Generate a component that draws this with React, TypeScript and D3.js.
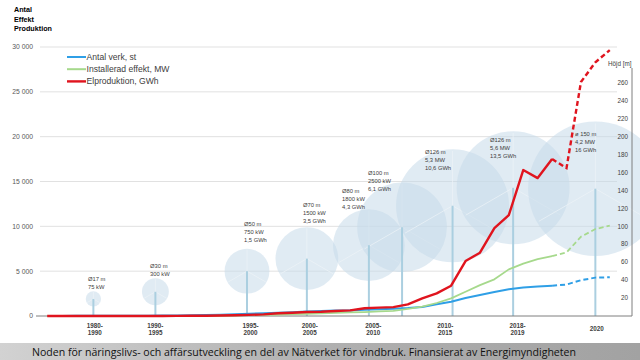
import React from "react";
import * as d3 from "d3";

const years = [1982,1983,1984,1985,1986,1987,1988,1989,1990,1991,1992,1993,1994,1995,1996,1997,1998,1999,2000,2001,2002,2003,2004,2005,2006,2007,2008,2009,2010,2011,2012,2013,2014,2015,2016,2017,2018,2019,2020,2021];
const antalVerk = [5,10,15,20,25,30,35,40,50,60,80,100,140,200,250,310,360,430,500,560,600,620,700,760,800,880,1000,1300,1590,2000,2340,2680,2980,3180,3300,3380,3510,3990,4280,4320];
const effektMW = [0,0,1,1,2,3,4,5,6,8,12,20,30,50,90,120,170,220,240,290,340,400,440,510,570,790,1040,1450,1970,2700,3450,4090,5200,5850,6350,6690,7080,8840,9700,10070];
const elGWh = [0,0,0,0,0,5,5,5,6,10,20,30,50,90,130,180,310,370,450,480,560,630,860,930,990,1300,1970,2530,3380,6130,7060,9800,11260,16280,15380,17500,16500,26090,28300,29650];
const forecastFrom = 2017;

const seriesNames = ["Antal verk, st", "Installerad effekt, MW", "Elproduktion, GWh"];
const leftTicks = [0, 5000, 10000, 15000, 20000, 25000, 30000];
const rightTicks = [20, 40, 60, 80, 100, 120, 140, 160, 180, 200, 220, 240, 260];

const catLabels = [["1980-", "1990"], ["1990-", "1995"], ["1995-", "2000"], ["2000-", "2005"], ["2005-", "2010"], ["2010-", "2015"], ["2018-", "2019"], ["2020"]];
const catPos = [1985.3, 1989.5, 1996.1, 2000.2, 2004.6, 2009.6, 2014.6, 2020.1];

const turbineYear = [1985.2, 1989.5, 1995.85, 2000.0, 2004.3, 2006.6, 2010.1, 2014.3, 2020.0];
const hubHeight = [19, 27, 50, 64, 79, 99, 123, 143, 142];
const rotorDiameter = [17, 30, 50, 70, 80, 100, 126, 126, 150];
const turbineText = [
  ["Ø17 m", "75 kW"],
  ["Ø30 m", "300 kW"],
  ["Ø50 m", "750 kW", "1,5 GWh"],
  ["Ø70 m", "1500 kW", "3,5 GWh"],
  ["Ø80 m", "1800 kW", "4,3 GWh"],
  ["Ø100 m", "2500 kW", "6,1 GWh"],
  ["Ø126 m", "5,3 MW", "10,6 GWh"],
  ["Ø126 m", "5,6 MW", "13,5 GWh"],
  ["ø 150 m", "4,2 MW", "16 GWh"],
];
const textYear = [1984.83, 1989.13, 1995.64, 1999.73, 2002.44, 2004.24, 2008.19, 2012.7, 2018.59];
const textHeight = [41, 56, 103, 124, 139, 160, 183, 196, 203];

const W = 640, H = 360;
const FONT = "'Liberation Sans', Arial, sans-serif";

export default function App() {
  const x = d3.scaleLinear().domain([1981.5, 2021.5]).range([40, 617]);
  const yL = d3.scaleLinear().domain([0, 30000]).range([316, 47]);
  const yR = d3.scaleLinear().domain([0, 300]).range([316, 47]);
  const pxPerM = yR(0) - yR(1);

  const colors = ["#2f9fe6", "#a6d98c", "#e0141e"];
  const widths = [2, 1.8, 2.4];
  const data = [antalVerk, effektMW, elGWh];

  const mkLine = d3.line<[number, number]>().x(d => x(d[0])).y(d => yL(d[1]));

  const paths = data.map((vals, si) => {
    const pts: [number, number][] = years.map((yr, i) => [yr, vals[i]]);
    const solid = pts.filter(p => p[0] <= forecastFrom);
    const dashed = pts.filter(p => p[0] >= forecastFrom);
    return { solid: mkLine(solid) || "", dashed: mkLine(dashed) || "", color: colors[si], w: widths[si] };
  });

  const bladeAngles = [-90, 30, 150];

  return (
    <svg width={W} height={H} style={{ position: "absolute", left: 0, top: 0, background: "#fff" }} fontFamily={FONT}>
      <defs>
        <linearGradient id="banner" x1="0" x2="1" y1="0" y2="0">
          <stop offset="0" stopColor="#d2d2d2" />
          <stop offset="0.5" stopColor="#b0b0b0" />
          <stop offset="1" stopColor="#a2a2a2" />
        </linearGradient>
      </defs>
      <rect x={0} y={0} width={W} height={H} fill="#fff" />

      {["Antal", "Effekt", "Produktion"].map((t, i) => (
        <text key={t} x={14} y={12 + i * 9.7} fontSize={7.2} fontWeight="bold" fill="#000">{t}</text>
      ))}

      {leftTicks.filter(t => t > 0).map(t => (
        <line key={t} x1={40} x2={617} y1={yL(t)} y2={yL(t)} stroke="#d9d9d9" strokeWidth={0.8} />
      ))}

      {turbineYear.map((yr, i) => {
        const cx = x(yr), cy = yR(hubHeight[i]);
        const r = (rotorDiameter[i] * pxPerM) / 2;
        return (
          <g key={"c" + i}>
            <circle cx={cx} cy={cy} r={r} fill="#c6dbe9" fillOpacity={0.55} />
            {bladeAngles.map(a => (
              <line key={a} x1={cx} y1={cy} x2={cx + r * 0.97 * Math.cos((a * Math.PI) / 180)} y2={cy + r * 0.97 * Math.sin((a * Math.PI) / 180)} stroke="#eef4f8" strokeWidth={1} opacity={0.7} />
            ))}
          </g>
        );
      })}
      {turbineYear.map((yr, i) => (
        <line key={"t" + i} x1={x(yr)} x2={x(yr)} y1={yR(hubHeight[i])} y2={yR(0)} stroke="#abcfe0" strokeWidth={2} />
      ))}

      {turbineText.map((lines, i) => (
        <text key={"a" + i} x={x(textYear[i])} y={yR(textHeight[i]) + 2} fontSize={5.8} fill="#404040">
          {lines.map((l, j) => (
            <tspan key={j} x={x(textYear[i])} dy={j === 0 ? 0 : 8}>{l}</tspan>
          ))}
        </text>
      ))}

      <line x1={36} x2={632} y1={yL(0)} y2={yL(0)} stroke="#7f7f7f" strokeWidth={1} />
      <line x1={632} x2={632} y1={68} y2={yL(0)} stroke="#7f7f7f" strokeWidth={1} />
      {leftTicks.map(t => (
        <text key={"l" + t} x={33} y={yL(t) + 2.4} fontSize={6.8} fill="#595959" textAnchor="end">
          {d3.format(",")(t).replace(/,/g, " ")}
        </text>
      ))}
      {rightTicks.map(t => (
        <text key={"r" + t} x={628} y={yR(t) + 2.2} fontSize={6.3} fill="#404040" textAnchor="end">{t}</text>
      ))}
      <text x={608} y={66} fontSize={6.3} fill="#404040">Höjd [m]</text>

      {catLabels.map((lines, i) => (
        <text key={"k" + i} x={x(catPos[i])} y={lines.length === 1 ? 331 : 327.5} fontSize={6.3} fontWeight="bold" fill="#404040" textAnchor="middle">
          {lines.map((l, j) => (
            <tspan key={j} x={x(catPos[i])} dy={j === 0 ? 0 : 7.5}>{l}</tspan>
          ))}
        </text>
      ))}

      {paths.map((p, i) => (
        <g key={"s" + i}>
          <path d={p.solid} fill="none" stroke={p.color} strokeWidth={p.w} strokeLinejoin="round" />
          <path d={p.dashed} fill="none" stroke={p.color} strokeWidth={p.w} strokeDasharray="5,3" />
        </g>
      ))}

      {seriesNames.map((n, i) => (
        <g key={"lg" + i}>
          <line x1={67} x2={86} y1={57 + i * 12.2} y2={57 + i * 12.2} stroke={colors[i]} strokeWidth={i === 2 ? 2.4 : 2} />
          <text x={86.5} y={60 + i * 12.2} fontSize={8.6} fill="#404040">{n}</text>
        </g>
      ))}

      <rect x={0} y={343} width={W} height={17} fill="url(#banner)" />
      <text x={32} y={356} fontSize={11.5} fill="#111" textLength={544} lengthAdjust="spacingAndGlyphs" fontFamily="'Open Sans', sans-serif">
        Noden för näringslivs- och affärsutveckling en del av Nätverket för vindbruk. Finansierat av Energimyndigheten
      </text>
    </svg>
  );
}
